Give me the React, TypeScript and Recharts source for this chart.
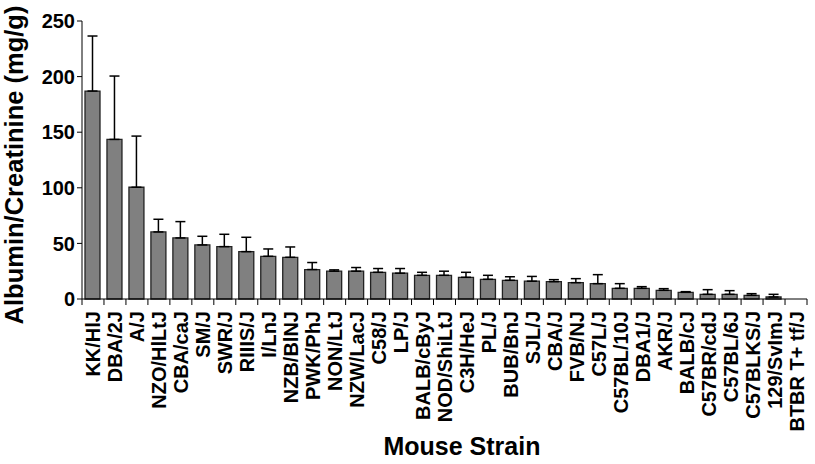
import * as React from 'react';
import { BarChart, Bar, XAxis, YAxis, ErrorBar } from 'recharts';

const strains = [
  'KK/HlJ', 'DBA/2J', 'A/J', 'NZO/HlLtJ', 'CBA/caJ', 'SM/J', 'SWR/J', 'RIIIS/J', 'I/LnJ',
  'NZB/BlNJ', 'PWK/PhJ', 'NON/LtJ', 'NZW/LacJ', 'C58/J', 'LP/J', 'BALB/cByJ', 'NOD/ShiLtJ',
  'C3H/HeJ', 'PL/J', 'BUB/BnJ', 'SJL/J', 'CBA/J', 'FVB/NJ', 'C57L/J', 'C57BL/10J', 'DBA1/J',
  'AKR/J', 'BALB/cJ', 'C57BR/cdJ', 'C57BL/6J', 'C57BLKS/J', '129/SvImJ', 'BTBR T+ tf/J',
];

const means = [
  187, 143.5, 100.5, 60.3, 54.9, 48.6, 47.1, 42.6, 38.4,
  37.5, 26.5, 25, 25, 24, 23.2, 21.3, 21.3,
  19.5, 17.7, 16.8, 16, 15.6, 14.7, 13.8, 9.6, 9.6,
  7.8, 6, 4.2, 4.2, 3.3, 1.8, 0,
];

// upper error only (SEM drawn above the bar)
const upperErr = [
  49.5, 57, 46, 11.4, 14.7, 7.8, 11.1, 12.9, 6.6,
  9.3, 6.3, 1.2, 3.3, 3.4, 4.2, 2.7, 3.7,
  4.5, 3.6, 3.2, 4.3, 1.8, 3.6, 8.1, 4.2, 1.5,
  1.5, 0.6, 4.2, 3.3, 1.5, 2.4, 0,
];

const yTicks = [0, 50, 100, 150, 200, 250];

const data = strains.map((name, i) => ({
  name,
  value: means[i],
  err: [0, upperErr[i]],
}));

const FONT = '"Liberation Sans", Arial, sans-serif';
const W = 815;
const H = 464;
const LEFT = 82;
const RIGHT = 8;
const BAND = (W - LEFT - RIGHT) / strains.length;

const StrainTick = (props: any) => {
  const { x, y, payload, index } = props;
  const half = BAND / 2;
  return (
    <g>
      <line x1={x - half} x2={x - half} y1={y - 8} y2={y - 2} stroke="#000" strokeWidth={1} />
      {index === strains.length - 1 && (
        <line x1={x + half} x2={x + half} y1={y - 8} y2={y - 2} stroke="#000" strokeWidth={1} />
      )}
      <text
        transform={`translate(${x + 7.5},${y + 4}) rotate(-90)`}
        textAnchor="end"
        fontFamily={FONT}
        fontWeight="bold"
        fontSize={20}
        fill="#000"
      >
        {payload.value}
      </text>
    </g>
  );
};

export default function App() {
  return (
    <div style={{ position: 'absolute', left: 0, top: 0, background: '#fff' }}>
      <BarChart
        width={W}
        height={H}
        data={data}
        margin={{ top: 21, right: RIGHT, bottom: 0, left: 0 }}
        barSize={15}
      >
        <XAxis
          dataKey="name"
          interval={0}
          height={165}
          tickLine={false}
          axisLine={{ stroke: '#000', strokeWidth: 1 }}
          tick={<StrainTick />}
          label={{
            content: () => (
              <text x={462} y={455} textAnchor="middle" fontFamily={FONT} fontWeight="bold" fontSize={25} fill="#000">
                Mouse Strain
              </text>
            ),
          }}
        />
        <YAxis
          width={LEFT}
          domain={[0, 250]}
          ticks={yTicks}
          interval={0}
          tickSize={5}
          tickLine={{ stroke: '#000' }}
          axisLine={{ stroke: '#000', strokeWidth: 1 }}
          tick={{ fill: '#000', fontFamily: FONT, fontWeight: 'bold', fontSize: 20 }}
          label={{
            content: () => (
              <text
                transform="translate(23,165) rotate(-90)"
                textAnchor="middle"
                fontFamily={FONT}
                fontWeight="bold"
                fontSize={25.5}
                fill="#000"
              >
                Albumin/Creatinine (mg/g)
              </text>
            ),
          }}
        />
        <Bar dataKey="value" fill="#808080" stroke="#222" strokeWidth={1.3} isAnimationActive={false}>
          <ErrorBar dataKey="err" width={5} stroke="#000" strokeWidth={1.5} direction="y" />
        </Bar>
      </BarChart>
    </div>
  );
}
